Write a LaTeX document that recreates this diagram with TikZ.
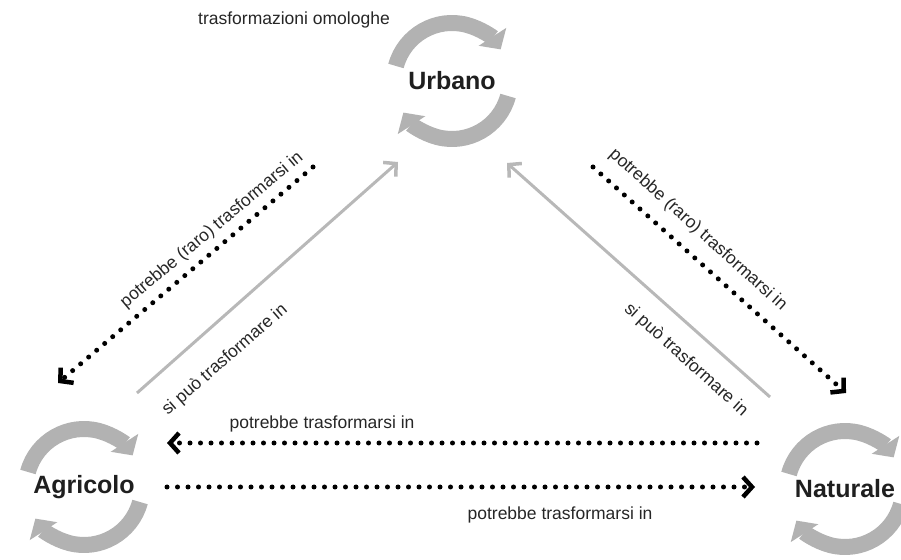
\documentclass[tikz,border=0pt]{standalone}
\usepackage{fontspec}
\setmainfont{Liberation Sans}
\usetikzlibrary{arrows.meta}

\tikzset{
  area/.style={font=\fontsize{25}{30}\selectfont\bfseries, text=black!88},
  lbl/.style={font=\fontsize{17.5}{21}\selectfont, text=black!85, inner sep=0pt},
  ciclo/.style={line width=16pt, draw=black!30, -{Triangle[length=15pt,width=32pt]}},
  puntini/.style={line width=5pt, dash pattern=on 0pt off 10.5pt, line cap=round,
    -{Straight Barb[length=9pt,width=20pt,line width=4.5pt]}},
  grigia/.style={line width=3pt, draw=black!28, -{Straight Barb[length=9pt,width=19pt,line width=3.5pt]}},
}
\newcommand{\ciclo}[1]{%
  \draw[ciclo] (#1.center) ++(165:58) arc[start angle=165, end angle=33, radius=58];
  \draw[ciclo] (#1.center) ++(-15:58) arc[start angle=-15, end angle=-147, radius=58];
}

\begin{document}
\begin{tikzpicture}[x=1pt,y=1pt]
        \clip (0,0) rectangle (901,559);
        % Define nodes
        % uses of land
        \node[area](urb) at (452,478) {Urbano}; %
        \node[area](agr) at (84,72) {Agricolo}; %
        \node[area](nat) at (845,70) {Naturale}; %
        \node[lbl](omo) at (294,539) {trasformazioni omologhe}; %

        % cycles round each node
        \ciclo{urb}
        \ciclo{agr}
        \ciclo{nat}

        % ends of the connectors
        \coordinate (au_s) at (137,166); \coordinate (au_e) at (398,397);
        \coordinate (nu_s) at (770,162); \coordinate (nu_e) at (507,396);
        \coordinate (ua_s) at (313,392); \coordinate (ua_e) at (58,176);
        \coordinate (un_s) at (593,392); \coordinate (un_e) at (846,166);
        \coordinate (na_s) at (757,116); \coordinate (na_e) at (167,116);
        \coordinate (an_s) at (167,72);  \coordinate (an_e) at (755,72);

        \draw[grigia] (au_s) -- (au_e);
        \draw[grigia] (nu_s) -- (nu_e);
        \draw[puntini] (ua_s) -- (ua_e);
        \draw[puntini] (un_s) -- (un_e);
        \draw[puntini] (na_s) -- (na_e);
        \draw[puntini] (an_s) -- (an_e);

        % labels of the connectors
        \node[lbl, rotate=40](l_ua) at (212,329) {potrebbe (raro) trasformarsi in}; %
        \node[lbl, rotate=41](l_au) at (225,199) {si può trasformare in}; %
        \node[lbl, rotate=-42](l_un) at (698,329) {potrebbe (raro) trasformarsi in}; %
        \node[lbl, rotate=-42](l_nu) at (686,199) {si può trasformare in}; %
        \node[lbl](l_na) at (322,135) {potrebbe trasformarsi in}; %
        \node[lbl](l_an) at (560,44) {potrebbe trasformarsi in}; %
    \end{tikzpicture}
\end{document}
